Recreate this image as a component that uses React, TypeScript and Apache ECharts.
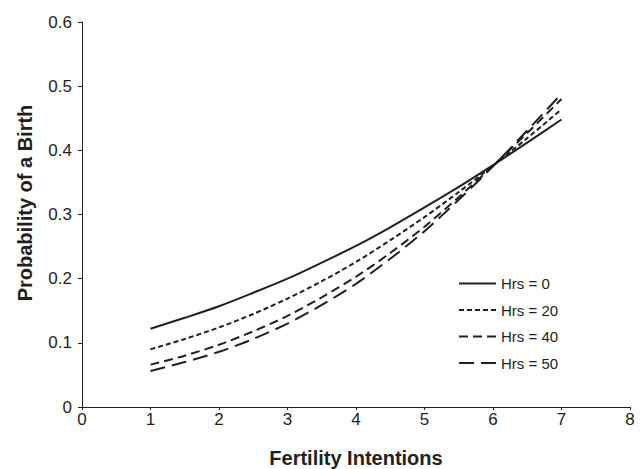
import React, { useEffect, useRef } from "react";
import * as echarts from "echarts";

const fertilityIntentions = [1, 1.5, 2, 2.5, 3, 3.5, 4, 4.5, 5, 5.5, 6, 6.5, 7];
const hrs0 = [0.122, 0.139, 0.157, 0.178, 0.2, 0.225, 0.251, 0.28, 0.311, 0.343, 0.377, 0.412, 0.448];
const hrs20 = [0.09, 0.106, 0.124, 0.145, 0.169, 0.196, 0.226, 0.26, 0.296, 0.335, 0.376, 0.419, 0.464];
const hrs40 = [0.066, 0.08, 0.097, 0.118, 0.142, 0.171, 0.203, 0.24, 0.281, 0.327, 0.376, 0.427, 0.48];
const hrs50 = [0.056, 0.07, 0.086, 0.106, 0.13, 0.159, 0.192, 0.231, 0.274, 0.323, 0.375, 0.431, 0.488];
const seriesNames = ["Hrs = 0", "Hrs = 20", "Hrs = 40", "Hrs = 50"];
const xTitle = "Fertility Intentions";
const yTitle = "Probability of a Birth";

const FONT = "'Liberation Sans', Arial, sans-serif";
const INK = "#231f20";

export default function App() {
  const ref = useRef<HTMLDivElement>(null);
  useEffect(() => {
    if (!ref.current) return;
    const chart = echarts.init(ref.current, undefined, { renderer: "svg" });
    const dashes: (number[] | "solid")[] = ["solid", [5, 3], [9, 5], [15, 7]];
    const all = [hrs0, hrs20, hrs40, hrs50];
    chart.setOption({
      animation: false,
      backgroundColor: "#ffffff",
      grid: { left: 82, right: 13, top: 22, bottom: 62, containLabel: false },
      xAxis: {
        type: "value",
        min: 0,
        max: 8,
        interval: 1,
        splitLine: { show: false },
        axisLine: { lineStyle: { color: INK, width: 1 } },
        axisTick: { show: true, length: 3, lineStyle: { color: INK } },
        axisLabel: { color: INK, fontSize: 17, fontFamily: FONT, margin: 4 },
      },
      yAxis: {
        type: "value",
        min: 0,
        max: 0.6,
        interval: 0.1,
        splitLine: { show: false },
        axisLine: { show: true, lineStyle: { color: INK, width: 1 } },
        axisTick: { show: true, length: 4, lineStyle: { color: INK } },
        axisLabel: {
          color: INK,
          fontSize: 17,
          fontFamily: FONT,
          margin: 10,
          formatter: (v: number) => (v === 0 ? "0" : v.toFixed(1)),
        },
      },
      legend: {
        orient: "vertical",
        left: 458,
        top: 276,
        padding: 0,
        itemWidth: 37,
        itemHeight: 14,
        itemGap: 11.5,
        data: seriesNames,
        itemStyle: { opacity: 0, color: "transparent", borderWidth: 0 },
        textStyle: { color: INK, fontSize: 15, fontFamily: FONT },
      },
      graphic: [
        {
          type: "text",
          x: 356,
          y: 458,
          style: {
            text: xTitle,
            fill: INK,
            font: `bold 20px ${FONT}`,
            align: "center",
            verticalAlign: "middle",
          },
        },
        {
          type: "text",
          x: 25,
          y: 203,
          rotation: Math.PI / 2,
          style: {
            text: yTitle,
            fill: INK,
            font: `bold 20px ${FONT}`,
            align: "center",
            verticalAlign: "middle",
          },
        },
      ],
      series: all.map((vals, i) => ({
        name: seriesNames[i],
        type: "line",
        smooth: 0.3,
        symbol: "none",
        showSymbol: false,
        data: fertilityIntentions.map((x, j) => [x, vals[j]]),
        lineStyle: { color: INK, width: 2, type: dashes[i] },
        itemStyle: { color: INK },
      })),
    });
    return () => chart.dispose();
  }, []);
  return (
    <div
      ref={ref}
      style={{ position: "fixed", left: 0, top: 0, width: 643, height: 469 }}
    />
  );
}
